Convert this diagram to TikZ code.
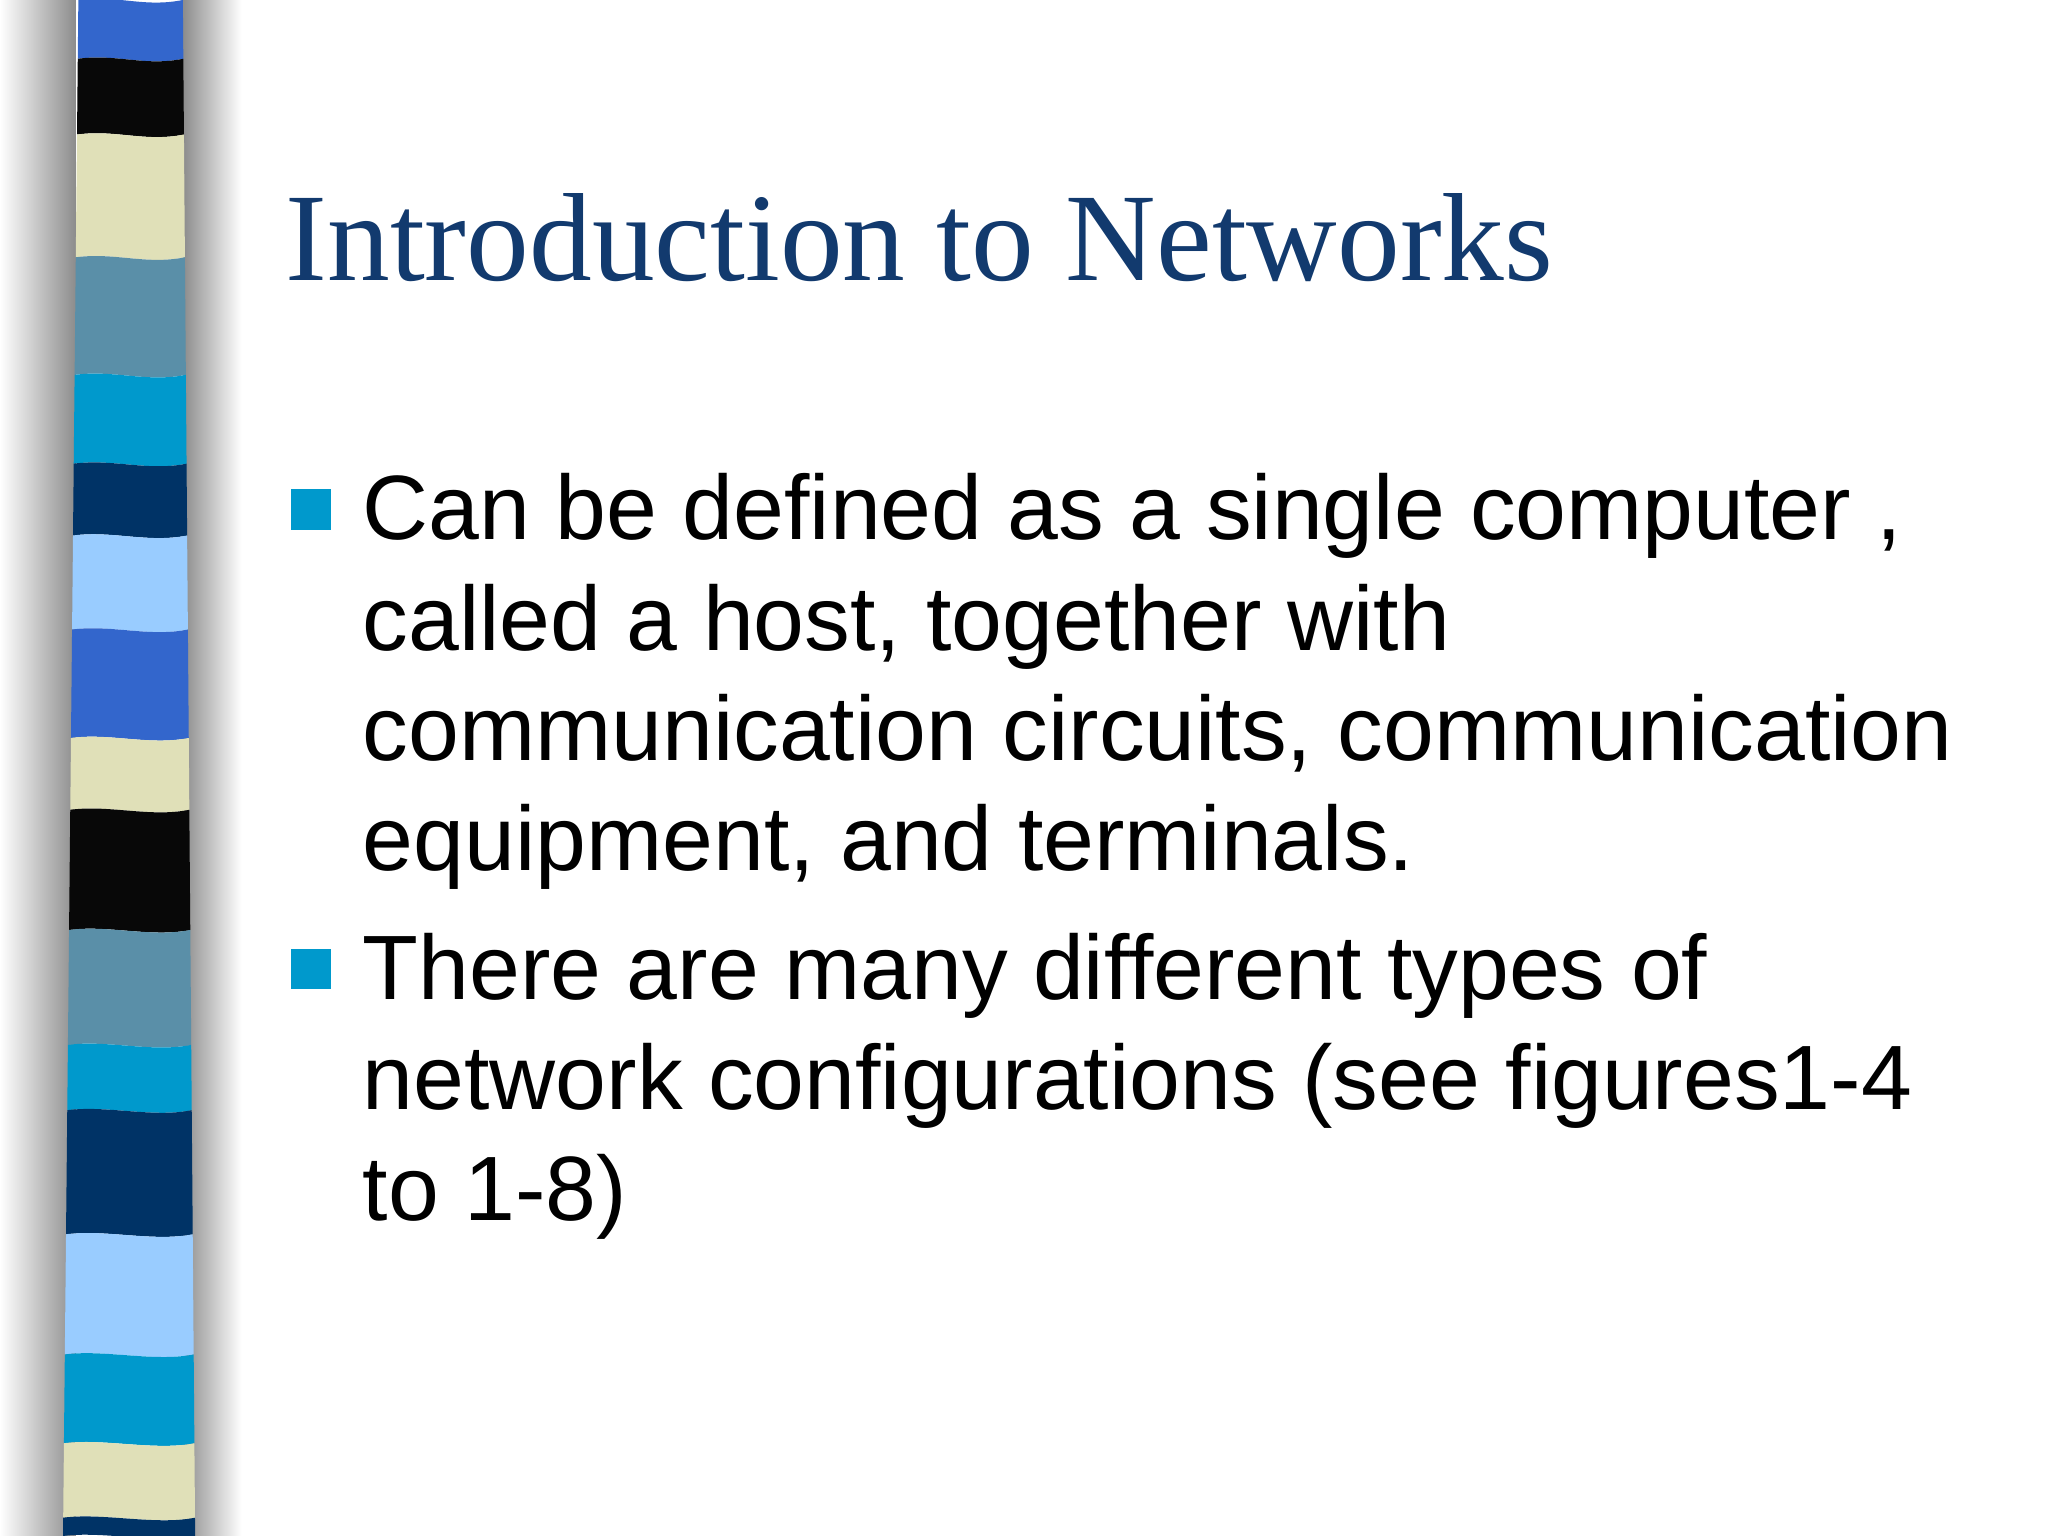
\documentclass[tikz,border=0pt]{standalone}
\usepackage{fontspec}
\setmainfont{Liberation Sans}
\newfontfamily\titlefont{Liberation Serif}
\definecolor{sblue}{HTML}{3366CC}
\definecolor{sblack}{HTML}{080808}
\definecolor{scream}{HTML}{E0E0B8}
\definecolor{steal}{HTML}{5A8FA8}
\definecolor{scyan}{HTML}{0099CC}
\definecolor{snavy}{HTML}{003366}
\definecolor{slight}{HTML}{99CCFF}
\definecolor{titlec}{HTML}{123A6E}
\tikzset{bodytext/.style={anchor=north west,align=left,font=\fontsize{19.9}{24}\selectfont,inner sep=0pt},
bul/.style={fill=scyan,minimum size=0.31cm,inner sep=0pt}}
\begin{document}
\begin{tikzpicture}[x=0.01cm,y=-0.01cm]
\useasboundingbox (0,0) rectangle (1568,1176);
\fill[white] (0,0) rectangle (1568,1176);
% shadow
\shade[left color=white,right color=black!45] (0,0) rectangle (58,1176);
\shade[left color=black!45,right color=white] (140,0) rectangle (185,1176);
% stripes
\foreach \a/\b/\c [count=\i] in {0/45/sblue,45/103/sblack,103/197/scream,197/287/steal,287/355/scyan,355/410/snavy,410/482/slight,482/565/sblue,565/620/scream,620/712/sblack,712/800/steal,800/850/scyan,850/945/snavy,945/1037/slight,1037/1105/scyan,1105/1162/scream,1162/1176/snavy}{
\pgfmathsetmacro{\la}{60-\a*0.01}
\pgfmathsetmacro{\ra}{140+\a*0.008}
\pgfmathsetmacro{\lb}{60-\b*0.01}
\pgfmathsetmacro{\rb}{140+\b*0.008}
\fill[\c] (\la,\a) .. controls (\la+30,\a-4) and (\ra-30,\a+6) .. (\ra,\a) -- (\rb,\b) .. controls (\rb-30,\b+6) and (\lb+30,\b-4) .. (\lb,\b) -- cycle;
}
\node[anchor=base west,inner sep=0pt,text=titlec,font=\titlefont\fontsize{27.3}{30}\selectfont] (title) at (218,215) {Introduction to Networks};
\node[bul] (b1) at (238,390) {};
\node[bodytext] (t1) at (277,362) {Can be defined as a single computer ,\\ called a host, together with\\ communication circuits, communication\\ equipment, and terminals.};
\node[bul] (b2) at (238,742) {};
\node[bodytext] (t2) at (277,714) {There are many different types of\\ network configurations (see figures1-4\\ to 1-8)};
\end{tikzpicture}
\end{document}
